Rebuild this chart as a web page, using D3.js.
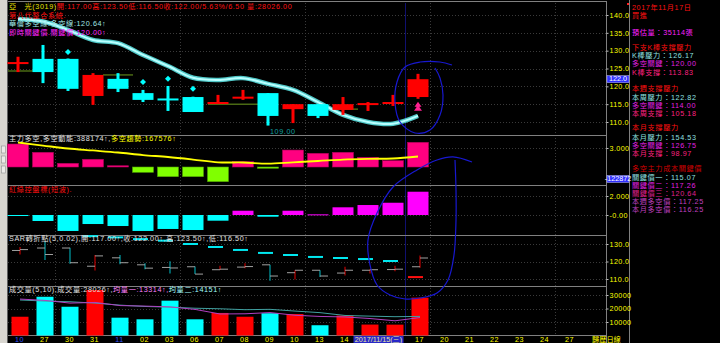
<!DOCTYPE html>
<html><head><meta charset="utf-8">
<script src="https://cdn.jsdelivr.net/npm/d3@7"></script>
<style>
body{margin:0;background:#000;overflow:hidden}
svg{display:block}
text{font-family:"Liberation Sans","Noto Sans CJK TC",sans-serif;font-size:7.2px;letter-spacing:0.6px}
</style></head>
<body><svg id="c" width="720" height="343"></svg>
<script>
// ---------------- DATA ----------------
const xLabels = ["10","27","30","31","11","02","03","06","07","08","09","10","13","14","15","16","17","20","21","22","23","24","27"];
const monthLabelIdx = [0,4];
const weekStartIdx = [2,7,12,17,22];
const openP  = [126.3,127.7,127.7,117.3,122.1,118.1,116.6,117.0,115.3,116.8,118.1,113.6,115.0,113.4,115.0,115.4,117.0];
const highP  = [128.3,131.6,127.8,123.7,123.7,119.0,120.1,117.1,117.6,119.0,118.1,115.0,115.0,117.0,115.6,117.6,123.5];
const lowP   = [124.0,120.9,118.7,114.8,118.4,115.6,113.1,112.8,115.2,116.2,109.0,109.7,111.1,112.0,113.1,114.5,116.5];
const closeP = [126.8,124.0,119.3,123.2,119.3,116.2,116.3,112.8,115.6,117.1,111.7,115.0,111.7,115.0,115.3,115.6,122.0];
const warrenLine = [138.9,138.2,135.8,133.0,132.1,128.8,125.7,122.4,121.8,122.3,120.7,119.0,115.6,112.0,110.0,109.5,111.7];
const keySegStart = [-0.4,3.4,7.6,12.5];
const keySegEnd   = [0.6,4.6,9.6,13.6];
const keySegPrice = [124.3,123.2,115.0,113.6];
const sellSignalIdx = [2,5,6,7];
const sellSignalPrice = [129.6,121.2,122.1,119.3];
const buySignalIdx = [16];
const lowLabelIdx = 10, lowLabelText = "109.00";
const mainTicks = [110,115,120,125,130,135,140];
const lastPrice = 122.0;

const momentum = [3.63,2.32,0.58,1.22,0.2,-0.84,-1.53,-1.53,-2.32,0.84,-0.2,2.68,2.16,2.32,1.53,1.0,3.9];
const momTrend = [3.87,3.39,2.92,2.61,2.29,1.89,1.58,1.18,0.74,0.71,0.52,0.74,0.95,1.18,1.29,1.34,1.66];
const redGreen = [-0.1,-0.63,-1.68,-0.95,-1.16,-1.68,-1.47,-1.58,-0.6,0.45,-0.18,0.45,0.07,0.81,1.05,1.29,2.45];
const sarVals = [null,null,null,134.5,133.8,132.8,131.9,130.0,128.3,126.6,124.9,123.7,122.6,122.0,121.4,120.3,111.1];
const sarTicks = [110,120,130];
const volume = [13900,28700,21300,33700,13200,12000,25800,12000,16700,13900,16500,15900,7600,14800,8100,8044,28026];
const volMA5  = [27000,26000,24000,24500,22160,21780,21200,19340,15940,16080,16980,15000,14120,13740,12580,10889,13314];
const volMA10 = [26300,25500,25000,24000,22500,21500,21000,20200,19800,19120,19380,18100,16930,14840,14330,13934,14151];
const volTicks = [10000,20000,30000];

const infoLines = [
  ["2017年11月17日","#ff1010",7],["買進","#ff1010",15],["預估量：35114張","#ff20ff",32],
  ["下支K棒支撐壓力","#ff1010",47],["K棒壓力：126.17","#90e0e0",55.2],["多空關鍵：120.00","#e020e0",63.4],["K棒支撐：113.83","#ff2080",71.6],
  ["本週支撐壓力","#ff1010",88],["本周壓力：122.82","#90e0e0",96.5],["多空關鍵：114.00","#e020e0",104.7],["本周支撐：105.18","#ff2080",112.9],
  ["本月支撐壓力","#ff1010",127],["本月壓力：154.53","#90e0e0",136.5],["多空關鍵：126.75","#e020e0",144.7],["本月支撐：98.97","#ff2080",152.9],
  ["多空主力成本關鍵價","#d00000",168],["關鍵價一：115.07","#90e0e0",176.5],["關鍵價二：117.26","#e020e0",184.7],["關鍵價三：120.64","#e02090",192.9],
  ["本週多空價：117.25","#c040c0",201.1],["本月多空價：116.25","#c040c0",209.3]
];
// hand-drawn annotations (slot index, value in panel units)
const ring1 = [[16.68,125.14],[16.88,122.34],[17.0,117.57],[16.88,111.96],[16.48,107.76],[15.88,106.92],[15.28,110.0],[15.08,115.33],[15.16,121.22],[15.48,125.42],[16.08,126.82],[16.88,126.82],[17.36,125.98]];
const ring2 = [[18.16,5.58],[17.4,6.11],[16.76,5.79],[15.96,4.74],[15.0,2.95],[14.36,0.21],[14.0,-2.63],[14.08,-5.26],[14.36,-7.37],[14.88,-8.42],[15.48,-8.84],[16.08,-8.74],[16.76,-8.21],[17.2,-6.84],[17.44,-4.21],[17.52,-0.53],[17.52,2.63],[17.48,5.79]];

// ---------------- LAYOUT ----------------
const svg = d3.select("#c");
const PL = 8, PR = 606.5, INFO = 629.5;
const RED="#ff0000", CY="#00ffff", YEL="#ffff00", GRAY="#808080";
svg.append("rect").attr("width",720).attr("height",343).attr("fill","#000");

const x = d3.scaleBand().domain(d3.range(24)).range([5.5,605.5]);
const cx = i => x(i) + x.bandwidth()/2;
const sx = d3.scaleLinear().domain([0,1]).range([cx(0),cx(1)]);
const yM = d3.scaleLinear().domain([110,140]).range([122,15]);
const y2 = d3.scaleLinear().domain([0,3]).range([167,148]);
const y3 = d3.scaleLinear().domain([0,2]).range([215,196]);
const y4 = d3.scaleLinear().domain([110,130]).range([279,244]);
const y5 = d3.scaleLinear().domain([0,30000]).range([335.5,295]);
const n = openP.length;
const bars = d3.range(n).map(i=>({i,o:openP[i],h:highP[i],l:lowP[i],c:closeP[i]}));

// grid
const grid = svg.append("g").attr("stroke","#3a3a3a").attr("stroke-dasharray","1,2");
function hgrid(ticks, sc){ grid.selectAll(null).data(ticks).join("line")
  .attr("x1",PL).attr("x2",PR).attr("y1",d=>Math.round(sc(d))+0.5).attr("y2",d=>Math.round(sc(d))+0.5); }
hgrid(mainTicks,yM); hgrid([3],y2); hgrid([2,0],y3); hgrid(sarTicks,y4); hgrid(volTicks,y5);
grid.selectAll(null).data(weekStartIdx).join("line")
  .attr("x1",d=>x(d)).attr("x2",d=>x(d)).attr("y1",3).attr("y2",335);
svg.append("line").attr("x1",x(16)).attr("x2",x(16)).attr("y1",3).attr("y2",335).attr("stroke","#101070");

// panel separators
const seps=[1.5,135.5,185.5,235.5,286.5,335.5];
svg.append("g").selectAll("line").data(seps).join("line")
  .attr("x1",PL).attr("x2",PR).attr("y1",d=>d).attr("y2",d=>d).attr("stroke",GRAY);
svg.append("line").attr("x1",PR).attr("x2",PR).attr("y1",1).attr("y2",343).attr("stroke",GRAY);
svg.append("line").attr("x1",INFO).attr("x2",INFO).attr("y1",0).attr("y2",343).attr("stroke",GRAY);
// left strip
svg.append("rect").attr("x",0).attr("y",0).attr("width",7).attr("height",343).attr("fill","#d8d6d0");
svg.append("line").attr("x1",7.5).attr("x2",7.5).attr("y1",0).attr("y2",343).attr("stroke","#606060");
svg.selectAll(".lb").data([146,156,166]).join("rect").attr("x",1.5).attr("y",d=>d).attr("width",4).attr("height",7)
  .attr("fill","#ecebe8").attr("stroke","#909090").attr("stroke-width",0.6);

// ---------------- MAIN PANEL ----------------
const gM = svg.append("g");
gM.selectAll(".ks").data(keySegPrice).join("line")
  .attr("x1",(d,k)=>sx(keySegStart[k])).attr("x2",(d,k)=>sx(keySegEnd[k]))
  .attr("y1",d=>yM(d)).attr("y2",d=>yM(d)).attr("stroke","#4a6a14").attr("stroke-width",1.5);
const lineM = d3.line().x((d,i)=>cx(i)).y(d=>yM(d)).curve(d3.curveCatmullRom);
gM.append("path").attr("d",lineM(warrenLine)).attr("fill","none").attr("stroke","#50c8c8").attr("stroke-width",4.5);
gM.append("path").attr("d",lineM(warrenLine)).attr("fill","none").attr("stroke","#b8ffff").attr("stroke-width",2);
gM.selectAll(".wk").data(bars).join("rect")
  .attr("x",d=>cx(d.i)-1.5).attr("width",3).attr("y",d=>yM(d.h)).attr("height",d=>yM(d.l)-yM(d.h))
  .attr("fill",d=>d.c>=d.o?RED:CY);
gM.selectAll(".bd").data(bars).join("rect")
  .attr("x",d=>cx(d.i)-10.5).attr("width",21)
  .attr("y",d=>yM(Math.max(d.o,d.c))).attr("height",d=>Math.max(2,Math.abs(yM(d.o)-yM(d.c))))
  .attr("fill",d=>d.c>=d.o?RED:CY);
gM.selectAll(".sig").data(sellSignalIdx).join("path")
  .attr("d",(d,k)=>{const X=cx(d),Y=yM(sellSignalPrice[k]);return `M${X},${Y-3}L${X+3},${Y}L${X},${Y+3}L${X-3},${Y}Z`;})
  .attr("fill",CY);
gM.selectAll(".buy").data(buySignalIdx).join("path")
  .attr("d",d=>{const X=cx(d),Y=yM(lowP[d])+3;return `M${X},${Y}L${X+3.5},${Y+5}L${X+1.5},${Y+5}L${X+1.5},${Y+5.5}L${X+4},${Y+9}L${X-4},${Y+9}L${X-1.5},${Y+5.5}L${X-1.5},${Y+5}L${X-3.5},${Y+5}Z`;})
  .attr("fill","#ff2090");
gM.append("text").attr("x",cx(lowLabelIdx)+2).attr("y",yM(lowP[lowLabelIdx])+8).attr("fill","#10a0a0").text(lowLabelText);

// titles main
function multi(xp, yp, parts){ const t=svg.append("text").attr("x",xp).attr("y",yp);
  parts.forEach(p=>t.append("tspan").attr("fill",p[1]).text(p[0])); return t; }
multi(9,9,[["亞　光(3019)","#e8e000"],["開:117.00高:123.50低:116.50收:122.00/5.63%/6.50 量:28026.00","#ff1010"]]);
multi(9,17.5,[["第八代整合系統.","#ff1010"]]);
multi(9,26,[["華倫多空線.多空線:120.64↑","#a0e8e8"]]);
multi(9,34.5,[["即時關鍵價.關鍵價:120.00↑","#ff20ff"]]);

// ---------------- PANEL 2 ----------------
const g2 = svg.append("g");
g2.selectAll("rect").data(momentum).join("rect")
  .attr("x",(d,i)=>cx(i)-10.5).attr("width",21)
  .attr("y",d=>d>=0?y2(d):y2(0)).attr("height",d=>Math.max(1,Math.abs(y2(d)-y2(0))))
  .attr("fill",d=>d>=0?"#ff0080":"#80ff00").attr("stroke",d=>d>=0?"#b00058":"#50a000").attr("stroke-width",0.6);
g2.append("path").attr("d",d3.line().x((d,i)=>cx(i)).y(d=>y2(d)).curve(d3.curveCatmullRom)(momTrend))
  .attr("fill","none").attr("stroke","#ffff00").attr("stroke-width",1.8);
multi(9,141,[["主力多空,多空動能:388174↑,","#e0e0e0"],["多空趨勢:167576↑","#ffff00"]]);

// ---------------- PANEL 3 ----------------
const g3 = svg.append("g");
g3.selectAll("rect").data(redGreen).join("rect")
  .attr("x",(d,i)=>cx(i)-10.5).attr("width",21)
  .attr("y",d=>d>=0?y3(d):y3(0)).attr("height",d=>Math.max(1,Math.abs(y3(d)-y3(0))))
  .attr("fill",d=>d>=0?"#ff00ff":"#00ffff");
multi(9,192,[["紅綠控盤標(短波).","#ff1010"]]);

// ---------------- PANEL 4 (SAR) ----------------
const g4 = svg.append("g");
const dx = 2;
g4.selectAll(".v").data(bars).join("line")
  .attr("x1",d=>cx(d.i)+dx).attr("x2",d=>cx(d.i)+dx).attr("y1",d=>y4(d.h)).attr("y2",d=>y4(d.l))
  .attr("stroke",d=>d.c>=d.o?"#c00000":"#00a0a8").attr("stroke-width",1.2);
g4.selectAll(".ol").data(bars).join("line")
  .attr("x1",d=>cx(d.i)+dx-8).attr("x2",d=>cx(d.i)+dx).attr("y1",d=>y4(d.o)).attr("y2",d=>y4(d.o))
  .attr("stroke","#a0a0a0").attr("stroke-width",1);
g4.selectAll(".cl").data(bars).join("line")
  .attr("x1",d=>cx(d.i)+dx).attr("x2",d=>cx(d.i)+dx+8).attr("y1",d=>y4(d.c)).attr("y2",d=>y4(d.c))
  .attr("stroke","#a0a0a0").attr("stroke-width",1);
const sarPts = sarVals.map((v,i)=>({i,v})).filter(d=>d.v!==null);
g4.selectAll(".sar").data(sarPts).join("line")
  .attr("x1",d=>cx(d.i)-10).attr("x2",d=>cx(d.i)+5).attr("y1",d=>y4(d.v)).attr("y2",d=>y4(d.v))
  .attr("stroke",d=>d.v>highP[d.i]?"#00e8f0":"#ff1010").attr("stroke-width",2);
multi(9,241,[["SAR轉折點(5,0.02),開:117.00↑,收:122.00↑,高:123.50↑,低:116.50↑","#e0e0e0"]]);

// ---------------- PANEL 5 (volume) ----------------
const g5 = svg.append("g");
g5.selectAll("rect").data(volume).join("rect")
  .attr("x",(d,i)=>cx(i)+dx-8.5).attr("width",17)
  .attr("y",d=>y5(d)).attr("height",d=>y5(0)-y5(d))
  .attr("fill",(d,i)=>closeP[i]>=openP[i]?"#ff0000":"#00ffff");
const lv = d3.line().x((d,i)=>cx(i)+dx).y(d=>y5(d));
g5.append("path").attr("d",lv(volMA10)).attr("fill","none").attr("stroke","#40a0a0").attr("stroke-width",1);
g5.append("path").attr("d",lv(volMA5)).attr("fill","none").attr("stroke","#b040c0").attr("stroke-width",1);
multi(9,292,[["成交量(5,10),成交量:28026↑,","#e0e0e0"],["均量一:13314↑,","#ff80ff"],["均量二:14151↑","#a0ffff"]]);

// ---------------- AXES ----------------
function rAxis(sc, ticks, fmt){
  const g = svg.append("g").attr("transform",`translate(${PR},0)`)
    .call(d3.axisRight(sc).tickValues(ticks).tickFormat(fmt).tickSize(2).tickPadding(1));
  g.select(".domain").remove();
  g.selectAll("line").attr("stroke","#c0c0c0");
  g.selectAll("text").attr("fill",YEL).attr("font-size","7.5px").style("letter-spacing","0.4px").attr("font-family","'Liberation Serif',serif");
}
rAxis(yM, mainTicks, d3.format(".1f"));
rAxis(y2, [3], ()=> "3.000");
rAxis(y3, [2,0], d=> d===0?"-0.00":"2.000");
rAxis(y4, sarTicks, d3.format(".1f"));
rAxis(y5, volTicks, d3.format("d"));
// current value boxes
function valBox(yc, label, fs){
  svg.append("rect").attr("x",PR+0.5).attr("y",yc-3.5).attr("width",22).attr("height",7).attr("fill","#3030ff").attr("stroke","#c0c0ff").attr("stroke-width",0.5);
  svg.append("text").attr("x",PR+11.5).attr("y",yc+2.2).attr("text-anchor","middle").attr("fill","#ffffff")
    .attr("font-size",fs).style("letter-spacing","0px").text(label);
}
valBox(yM(lastPrice), "122.0", "6.5px");
valBox(179, "-122872", "5.6px");

// x axis labels
const gx = svg.append("g");
gx.selectAll("text").data(xLabels.map((t,i)=>({t,i})).filter(d=>d.i!==14&&d.i!==15)).join("text")
  .attr("x",d=>cx(d.i)+1.5).attr("y",342).attr("text-anchor","middle")
  .attr("fill",d=>monthLabelIdx.includes(d.i)?"#3050ff":YEL).text(d=>d.t);
gx.append("rect").attr("x",x(14)-2).attr("y",336).attr("width",50).attr("height",7).attr("fill","#2828c8");
gx.append("text").attr("x",x(14)+23).attr("y",342).attr("text-anchor","middle").attr("fill","#e8e8a0")
  .attr("font-size","6.5px").style("letter-spacing","0px").text("2017/11/15(三)");
gx.append("text").attr("x",cx(23)-1).attr("y",342).attr("fill",YEL).attr("font-size","6.5px").style("letter-spacing","0px").text("歸歷日線");

// ---------------- INFO PANEL ----------------
svg.append("rect").attr("x",627).attr("y",3).attr("width",2).attr("height",2).attr("fill","#ff2020");
svg.append("g").selectAll("text").data(infoLines).join("text")
  .attr("x",632).attr("y",d=>d[2]+3).attr("fill",d=>d[1]).text(d=>d[0]);

// ---------------- ANNOTATIONS ----------------
const ann = d3.line().curve(d3.curveCatmullRom);
svg.append("path").attr("d",ann(ring1.map(p=>[sx(p[0]),yM(p[1])]))).attr("fill","none").attr("stroke","#1818d0").attr("stroke-width",1.2);
svg.append("path").attr("d",ann(ring2.map(p=>[sx(p[0]),y3(p[1])]))).attr("fill","none").attr("stroke","#1818d0").attr("stroke-width",1.2);
</script></body></html>
